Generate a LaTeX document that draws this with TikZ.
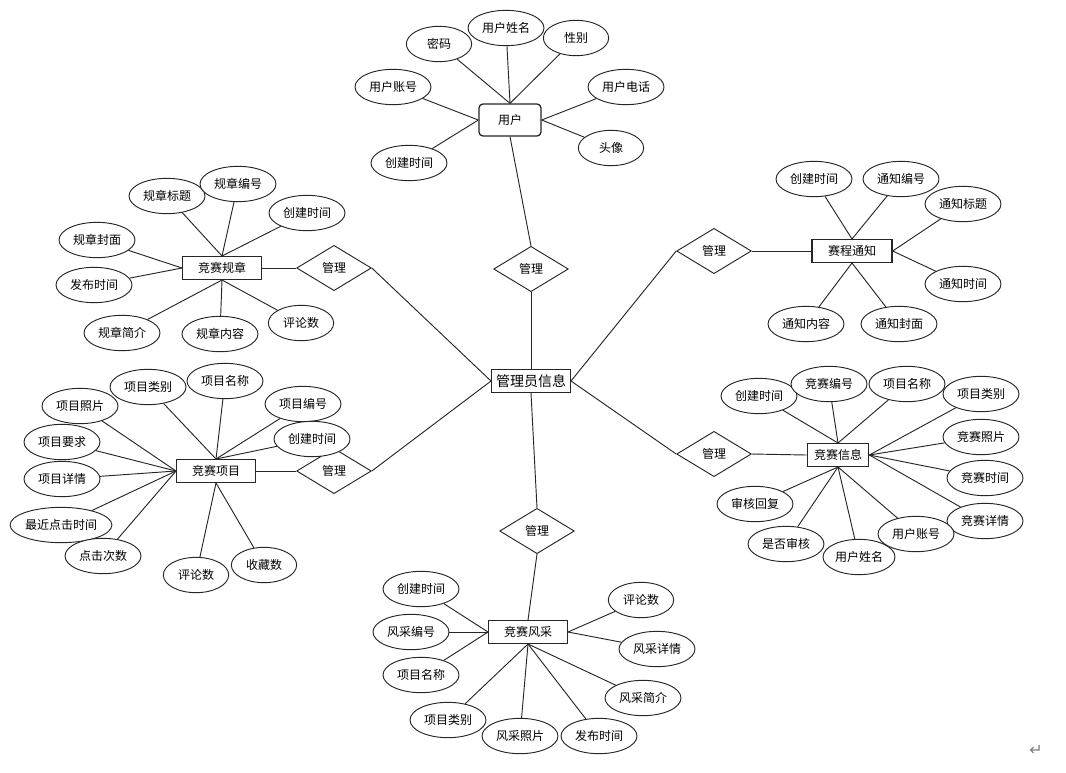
\documentclass[tikz,border=0pt]{standalone}
\usepackage{fontspec}
\setmainfont{Noto Sans CJK SC}
\newfontfamily\symfont{DejaVu Sans}
\usepackage{tikz}
\usepackage{xcolor}
\usetikzlibrary{shapes.geometric, positioning}
\definecolor{ERLine}{HTML}{262626}
\definecolor{ERMark}{HTML}{7F7F7F}
\tikzset{
    % Entity boxes
    entitybox/.style={
        rectangle,
        draw=ERLine,
        line width=1pt,
        fill=white,
        minimum width=59pt,
        minimum height=17pt,
        inner sep=0pt,
        font=\fontsize{9}{10}\selectfont
    },
    % Attribute ellipses
    attrnode/.style={
        ellipse,
        draw=ERLine,
        line width=0.7pt,
        fill=white,
        minimum width=57pt,
        minimum height=26.5pt,
        inner sep=0pt,
        font=\fontsize{9}{10}\selectfont
    },
    smallattr/.style={
        attrnode,
        minimum width=49pt
    },
    % Relation diamonds
    relnode/.style={
        diamond,
        draw=ERLine,
        line width=0.7pt,
        fill=white,
        minimum width=56pt,
        minimum height=34pt,
        inner sep=0pt,
        font=\fontsize{9}{10}\selectfont
    },
    % Connectors
    link/.style={
        draw=ERLine,
        line width=0.7pt
    }
}
\begin{document}
\begin{tikzpicture}[x=0.75pt, y=-0.75pt]
    \useasboundingbox (0,0) rectangle (1066,772);

    % Centre entity
    \node[entitybox, minimum width=59pt, font=\fontsize{10.5}{12}\selectfont] (admin) at (531,381) {管理员信息};

    % Relations
    \node[relnode] (relUser) at (531,269) {管理};
    \node[relnode] (relRule) at (334,268) {管理};
    \node[relnode] (relItem) at (334,471) {管理};
    \node[relnode] (relNotice) at (714,251) {管理};
    \node[relnode] (relInfo) at (714,454) {管理};
    \node[relnode] (relShow) at (537,531) {管理};

    % Entities
    \node[entitybox, rounded corners=3pt, minimum width=46.5pt, minimum height=24pt] (user) at (510,120) {用户};
    \node[entitybox] (rule) at (222,268) {竞赛规章};
    \node[entitybox] (item) at (216,471) {竞赛项目};
    \node[entitybox, minimum width=60pt] (notice) at (852,251) {赛程通知};
    \node[entitybox, minimum width=46pt] (info) at (838,455) {竞赛信息};
    \node[entitybox] (show) at (528,632) {竞赛风采};

    % Hub connectors
    \draw[link] (admin.north) -- (relUser.south);
    \draw[link] (relUser.north) -- (user.south);
    \draw[link] (admin.west) -- (relRule.east);
    \draw[link] (relRule.west) -- (rule.east);
    \draw[link] (admin.west) -- (relItem.east);
    \draw[link] (relItem.west) -- (item.east);
    \draw[link] (admin.east) -- (relNotice.west);
    \draw[link] (relNotice.east) -- (notice.west);
    \draw[link] (admin.east) -- (relInfo.west);
    \draw[link] (relInfo.east) -- (info.west);
    \draw[link] (admin.south) -- (relShow.north);
    \draw[link] (relShow.south) -- (show.north);

    % User attributes
    \node[smallattr] (uPwd) at (439,44) {密码};
    \node[attrnode] (uName) at (506,28) {用户姓名};
    \node[smallattr] (uSex) at (576,38) {性别};
    \node[attrnode] (uAcc) at (393,87) {用户账号};
    \node[attrnode] (uTel) at (626,87) {用户电话};
    \node[attrnode] (uTime) at (409,163) {创建时间};
    \node[smallattr] (uHead) at (611,148) {头像};
    \draw[link] (user.north) -- (uPwd);
    \draw[link] (user.north) -- (uName);
    \draw[link] (user.north) -- (uSex);
    \draw[link] (user.west) -- (uAcc);
    \draw[link] (user.west) -- (uTime);
    \draw[link] (user.east) -- (uTel);
    \draw[link] (user.east) -- (uHead);

    % Rule attributes
    \node[attrnode] (rTitle) at (167,196) {规章标题};
    \node[attrnode] (rNo) at (238,184) {规章编号};
    \node[attrnode] (rTime) at (307,213) {创建时间};
    \node[attrnode] (rCover) at (97,240) {规章封面};
    \node[attrnode] (rPub) at (94,285) {发布时间};
    \node[attrnode] (rBrief) at (122,333) {规章简介};
    \node[attrnode] (rText) at (220,334) {规章内容};
    \node[smallattr] (rCmt) at (301,323) {评论数};
    \draw[link] (rule.north) -- (rTitle);
    \draw[link] (rule.north) -- (rNo);
    \draw[link] (rule.north) -- (rTime);
    \draw[link] (rule.west) -- (rCover);
    \draw[link] (rule.west) -- (rPub);
    \draw[link] (rule.south) -- (rBrief);
    \draw[link] (rule.south) -- (rText);
    \draw[link] (rule.south) -- (rCmt);

    % Item attributes
    \node[attrnode] (iType) at (148,387) {项目类别};
    \node[attrnode] (iName) at (225,381) {项目名称};
    \node[attrnode] (iNo) at (303,404) {项目编号};
    \node[attrnode] (iTime) at (312,439) {创建时间};
    \node[attrnode] (iPhoto) at (80,406) {项目照片};
    \node[attrnode] (iReq) at (62,442) {项目要求};
    \node[attrnode] (iDetail) at (62,479) {项目详情};
    \node[attrnode, minimum width=74pt] (iLast) at (61,525) {最近点击时间};
    \node[attrnode] (iClick) at (103,556) {点击次数};
    \node[smallattr] (iCmt) at (196,575) {评论数};
    \node[smallattr] (iFav) at (264,565) {收藏数};
    \draw[link] (item.north) -- (iType);
    \draw[link] (item.north) -- (iName);
    \draw[link] (item.north) -- (iNo);
    \draw[link] (item.north) -- (iTime);
    \draw[link] (item.west) -- (iPhoto);
    \draw[link] (item.west) -- (iReq);
    \draw[link] (item.west) -- (iDetail);
    \draw[link] (item.west) -- (iLast);
    \draw[link] (item.west) -- (iClick);
    \draw[link] (item.south) -- (iCmt);
    \draw[link] (item.south) -- (iFav);

    % Notice attributes
    \node[attrnode] (nTime) at (814,179) {创建时间};
    \node[attrnode] (nNo) at (901,179) {通知编号};
    \node[attrnode] (nTitle) at (963,204) {通知标题};
    \node[attrnode] (nDate) at (963,284) {通知时间};
    \node[attrnode] (nText) at (806,324) {通知内容};
    \node[attrnode] (nCover) at (899,324) {通知封面};
    \draw[link] (notice.north) -- (nTime);
    \draw[link] (notice.north) -- (nNo);
    \draw[link] (notice.east) -- (nTitle);
    \draw[link] (notice.east) -- (nDate);
    \draw[link] (notice.south) -- (nText);
    \draw[link] (notice.south) -- (nCover);

    % Info attributes
    \node[attrnode] (fTime) at (759,396) {创建时间};
    \node[attrnode] (fNo) at (829,384) {竞赛编号};
    \node[attrnode] (fName) at (907,384) {项目名称};
    \node[attrnode] (fType) at (981,394) {项目类别};
    \node[attrnode] (fPhoto) at (981,437) {竞赛照片};
    \node[attrnode] (fDate) at (985,478) {竞赛时间};
    \node[attrnode] (fDetail) at (985,521) {竞赛详情};
    \node[attrnode] (fReply) at (755,504) {审核回复};
    \node[attrnode] (fCheck) at (786,544) {是否审核};
    \node[attrnode, minimum width=54pt] (fUser) at (859,557) {用户姓名};
    \node[attrnode] (fAcc) at (916,534) {用户账号};
    \draw[link] (info.north) -- (fTime);
    \draw[link] (info.north) -- (fNo);
    \draw[link] (info.north) -- (fName);
    \draw[link] (info.east) -- (fType);
    \draw[link] (info.east) -- (fPhoto);
    \draw[link] (info.east) -- (fDate);
    \draw[link] (info.east) -- (fDetail);
    \draw[link] (info.south) -- (fReply);
    \draw[link] (info.south) -- (fCheck);
    \draw[link] (info.south) -- (fUser);
    \draw[link] (info.south) -- (fAcc);

    % Show attributes
    \node[attrnode] (sTime) at (421,589) {创建时间};
    \node[attrnode] (sNo) at (411,632) {风采编号};
    \node[attrnode] (sName) at (421,675) {项目名称};
    \node[attrnode] (sType) at (448,720) {项目类别};
    \node[attrnode] (sPhoto) at (520,736) {风采照片};
    \node[attrnode] (sPub) at (599,736) {发布时间};
    \node[smallattr] (sCmt) at (641,600) {评论数};
    \node[attrnode] (sDetail) at (657,649) {风采详情};
    \node[attrnode] (sBrief) at (643,698) {风采简介};
    \draw[link] (show.west) -- (sTime);
    \draw[link] (show.west) -- (sNo);
    \draw[link] (show.west) -- (sName);
    \draw[link] (show.south) -- (sType);
    \draw[link] (show.south) -- (sPhoto);
    \draw[link] (show.south) -- (sPub);
    \draw[link] (show.south) -- (sBrief);
    \draw[link] (show.east) -- (sCmt);
    \draw[link] (show.east) -- (sDetail);

    % Paragraph mark
    \node[text=ERMark, font=\symfont\fontsize{12}{12}\selectfont] (mark) at (1036,750) {↵};
\end{tikzpicture}
\end{document}
